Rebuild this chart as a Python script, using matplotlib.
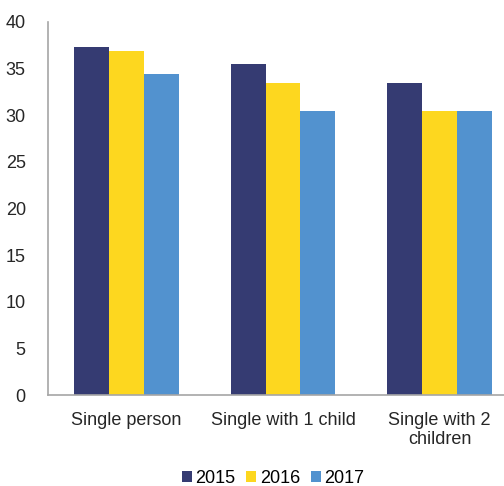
import numpy as np
import matplotlib.pyplot as plt

plt.rcParams['font.family'] = ['Liberation Sans', 'DejaVu Sans']

categories = ['Single person', 'Single with 1 child', 'Single with 2\nchildren']
years = ['2015', '2016', '2017']
v2015 = [37.3, 35.5, 33.5]
v2016 = [36.9, 33.5, 30.5]
v2017 = [34.4, 30.5, 30.5]
colors = ['#353B72', '#FDD71F', '#5292CF']

W, H = 504, 486
fig = plt.figure(figsize=(W / 100, H / 100), dpi=100)
# axes deliberately runs past the right edge, like the original
ax = fig.add_axes([48 / W, 1 - 395 / H, 470 / W, 373 / H])

x = np.arange(len(categories))
bw = 0.222
for i, (vals, yr) in enumerate(zip([v2015, v2016, v2017], years)):
    ax.bar(x + (i - 1) * bw, vals, bw, color=colors[i], label=yr)

ax.set_xlim(-0.5, 2.5)
ax.set_ylim(0, 40)
ax.set_yticks(range(0, 41, 5))
ax.set_xticks(x)
ax.set_xticklabels(categories, fontsize=13, color='#262626', linespacing=1.2)
ax.tick_params(axis='y', length=0, pad=16, labelsize=13, labelcolor='#262626')
ax.tick_params(axis='x', length=0, pad=12)
for s in ['top', 'right']:
    ax.spines[s].set_visible(False)
for s in ['left', 'bottom']:
    ax.spines[s].set_color('#A6A6A6')
    ax.spines[s].set_linewidth(1.2)

fig.legend(loc='center', bbox_to_anchor=(273 / W, 1 - 478 / H), ncol=3,
           frameon=False, fontsize=13, handlelength=0.55, handleheight=0.55,
           handletextpad=0.2, columnspacing=0.6)

fig.savefig('out.png', dpi=100)
